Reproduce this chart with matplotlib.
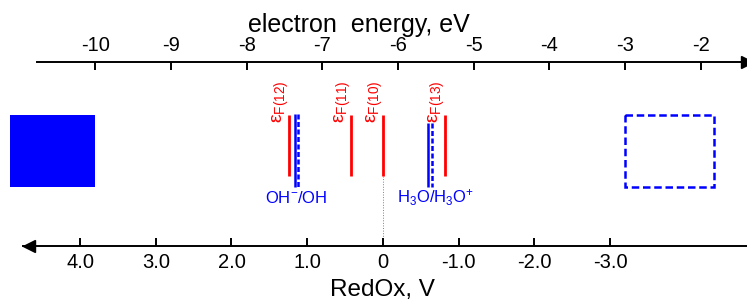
import matplotlib.pyplot as plt
from matplotlib.patches import Rectangle

plt.rcParams['font.family'] = ['Liberation Sans', 'DejaVu Sans']
plt.rcParams['mathtext.fontset'] = 'custom'
plt.rcParams['mathtext.rm'] = 'Liberation Sans'
plt.rcParams['mathtext.it'] = 'Liberation Sans:italic'
plt.rcParams['axes.unicode_minus'] = False

# energies in eV (top scale); RedOx 0 V sits at -6.2 eV
redox_zero = -6.2
energy_ticks = [-10, -9, -8, -7, -6, -5, -4, -3, -2]
redox_ticks = [4, 3, 2, 1, 0, -1, -2, -3]
redox_labels = ['4.0', '3.0', '2.0', '1.0', '0', '-1.0', '-2.0', '-3.0']

fermi_names = ['F(12)', 'F(11)', 'F(10)', 'F(13)']
fermi_energy = [-7.44, -6.62, -6.20, -5.38]

couple_names = [r'OH$^{-}$/OH', r'H$_{3}$O/H$_{3}$O$^{+}$']
couple_solid = [-7.36, -5.60]
couple_dashed = [-7.315, -5.555]
couple_label_x = [-7.35, -5.51]

band_filled = (-11.13, -10.0)
band_dashed = (-3.0, -1.82)

# layout (figure pixels)
W, H = 747, 303
px_per_ev = 75.7
e_left = -6 - 398 / px_per_ev
e_right = e_left + W / px_per_ev
y_top, y_bot = 62, 246

fig = plt.figure(figsize=(W / 100, H / 100), dpi=100)
ax = fig.add_axes([0, (H - y_bot) / H, 1, (y_bot - y_top) / H])
ax2 = ax.twiny()

ax.set_xlim(e_left, e_right)
ax.set_ylim(y_bot, y_top)
for s in ['left', 'right', 'bottom']:
    ax.spines[s].set_visible(False)
ax.spines['top'].set_linewidth(1.4)
ax.spines['top'].set_bounds(e_left + 37 / px_per_ev, e_right)
ax.xaxis.set_ticks_position('top')
ax.xaxis.set_label_position('top')
ax.set_xticks(energy_ticks)
ax.set_xticklabels([str(t) for t in energy_ticks])
ax.tick_params(axis='x', direction='in', length=6, width=1.4, labelsize=14.5, pad=5)
ax.tick_params(axis='y', left=False, labelleft=False)
ax.set_xlabel('electron  energy, eV', fontsize=18, labelpad=3)
ax.xaxis.label.set_x(359 / W)
ax.plot([e_right], [y_top], marker='>', color='black', markersize=9, clip_on=False)

ax2.set_xlim(-(e_left - redox_zero), -(e_right - redox_zero))
for s in ['left', 'right', 'top']:
    ax2.spines[s].set_visible(False)
ax2.spines['bottom'].set_visible(True)
ax2.spines['bottom'].set_linewidth(1.4)
v_arrow = -(e_left + 23 / px_per_ev - redox_zero)
ax2.spines['bottom'].set_bounds(v_arrow, -(e_right - redox_zero))
ax2.xaxis.set_ticks_position('bottom')
ax2.xaxis.set_label_position('bottom')
ax2.set_xticks(redox_ticks)
ax2.set_xticklabels(redox_labels)
ax2.tick_params(axis='x', direction='in', length=6, width=1.4, labelsize=14.5, pad=5)
ax2.set_xlabel('RedOx, V', fontsize=17.5, labelpad=5)
ax2.xaxis.label.set_x(382 / W)
ax2.plot([v_arrow - 0.08], [y_bot], marker='<', color='black', markersize=9, clip_on=False)

blue = '#0000ff'
ax.add_patch(Rectangle((band_filled[0], 115), band_filled[1] - band_filled[0], 71.5,
                       facecolor=blue, edgecolor='none'))
ax.add_patch(Rectangle((band_dashed[0], 115), band_dashed[1] - band_dashed[0], 71.5,
                       fill=False, edgecolor=blue, lw=1.8, linestyle=(0, (3, 1.5))))

ax.vlines(fermi_energy, 115, 176, color='#ff0000', lw=2)
for name, e in zip(fermi_names, fermi_energy):
    ax.text(e + 0.03, 123, 'ε$_{\\mathrm{' + name + '}}$', rotation=90, ha='right',
            va='bottom', color='#ff0000', fontsize=14)

ax.vlines(redox_zero, 176, y_bot, color='gray', lw=0.7, linestyles=':')

ax.vlines(couple_solid[0], 114, 187, color=blue, lw=1.8)
ax.vlines(couple_dashed[0], 114, 187, color=blue, lw=1.8, linestyles=(0, (2, 1)))
ax.vlines(couple_solid[1], 123, 187, color=blue, lw=1.8)
ax.vlines(couple_dashed[1], 123, 187, color=blue, lw=1.8, linestyles=(0, (2, 1)))
for name, x in zip(couple_names, couple_label_x):
    ax.text(x, 198, name, ha='center', va='center', color=blue, fontsize=12)

fig.savefig('out.png', dpi=100)
